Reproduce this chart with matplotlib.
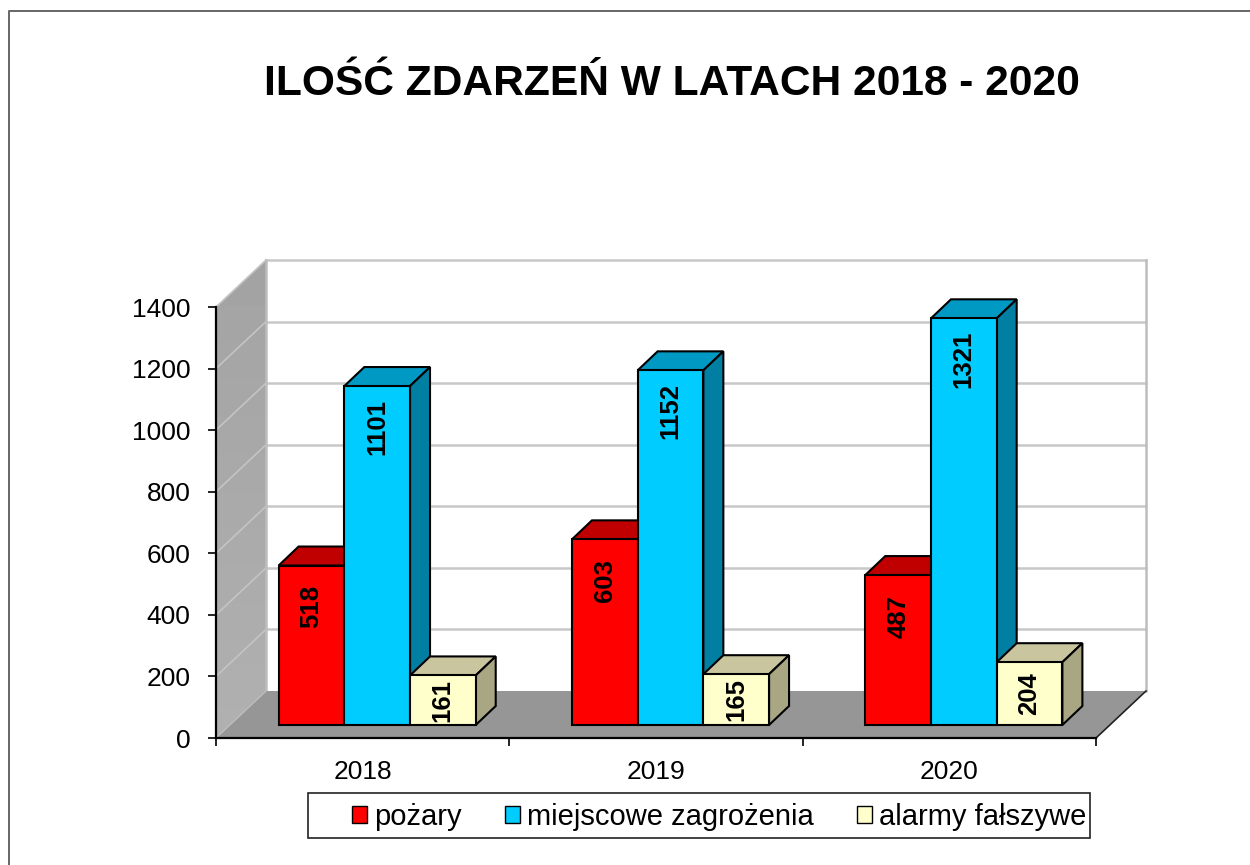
import numpy as np
import matplotlib
matplotlib.use('Agg')
import matplotlib.pyplot as plt
from matplotlib.lines import Line2D
from matplotlib.patches import Patch, Polygon, Rectangle

plt.rcParams['font.family'] = ['Liberation Sans', 'DejaVu Sans']

# chart values
years = ['2018', '2019', '2020']
pozary = [518, 603, 487]
zagrozenia = [1101, 1152, 1321]
alarmy = [161, 165, 204]
series_names = ['pożary', 'miejscowe zagrożenia', 'alarmy fałszywe']
y_ticks = [0, 200, 400, 600, 800, 1000, 1200, 1400]

# front, top and side colour of each series
series_colors = [('#ff0000', '#c00000', '#a00000'),
                 ('#00ccff', '#0099c4', '#007fa3'),
                 ('#ffffcc', '#c9c69f', '#a8a683')]

# figure size in pixels
W, H = 1250, 865

fig = plt.figure(figsize=(W / 100, H / 100), dpi=100)
ax = fig.add_axes([216 / W, 1 - 738 / H, 880 / W, 431 / H])

# one pixel in data units
px = 3.0 / 880
py = 1400.0 / 431

# depth of the chart box and of a single bar, pixels
box_dx, box_dy = 50 * px, 47 * py
bar_dx, bar_dy = 20 * px, 19 * py
# bars stand this far behind the front edge of the floor
lift_dx, lift_dy = 14.5 * px, 13 * py
bar_w = 65.7 * px

# left wall with its soft vertical gradient
wall = Polygon([(-0.5, 0), (-0.5 + box_dx, box_dy), (-0.5 + box_dx, 1400 + box_dy), (-0.5, 1400)],
               facecolor='none', edgecolor='none', transform=ax.transData, clip_on=False)
ax.add_patch(wall)
shade = ax.imshow(np.linspace(0.64, 0.69, 64).reshape(-1, 1), cmap='gray', vmin=0, vmax=1, aspect='auto',
                  extent=(-0.5, -0.5 + box_dx, 0, 1400 + box_dy), origin='upper', zorder=1)
shade.set_clip_path(wall)
shade.set_clip_box(fig.bbox)

# floor
ax.add_patch(Polygon([(-0.5, 0), (-0.5 + box_dx, box_dy), (2.5 + box_dx, box_dy), (2.5, 0)],
                     facecolor='#969696', edgecolor='none', clip_on=False, zorder=2))
ax.plot([2.5, 2.5 + box_dx], [0, box_dy], color='#222222', lw=1.2, clip_on=False, zorder=3)
ax.plot([-0.5, -0.5 + box_dx], [0, box_dy], color='#bdbdbd', lw=1.0, clip_on=False, zorder=3)

# gridlines on both walls
for t in y_ticks[1:]:
    ax.plot([-0.5 + box_dx, 2.5 + box_dx], [t + box_dy, t + box_dy], color='#c8c8c8', lw=1.8,
            clip_on=False, zorder=1.5)
    ax.plot([-0.5, -0.5 + box_dx], [t, t + box_dy], color='#c4c4c4', lw=1.2, clip_on=False, zorder=1.5)
ax.plot([-0.5 + box_dx, -0.5 + box_dx], [box_dy, 1400 + box_dy], color='#bdbdbd', lw=1.8, clip_on=False, zorder=1.5)
ax.plot([2.5 + box_dx, 2.5 + box_dx], [box_dy, 1400 + box_dy], color='#bdbdbd', lw=1.8, clip_on=False, zorder=1.5)

# bars, drawn left to right so the next one covers the side of the previous
for i, values in enumerate([pozary, zagrozenia, alarmy]):
    front, top, side = series_colors[i]
    for j, v in enumerate(values):
        left = j + lift_dx - 1.5 * bar_w + i * bar_w
        right = left + bar_w
        z = 5 + i + j * 3
        ax.bar(left, v, width=bar_w, bottom=lift_dy, align='edge', color=front, edgecolor='black',
               linewidth=1.5, clip_on=False, zorder=z + 0.2)
        y_top = lift_dy + v
        ax.add_patch(Polygon([(left, y_top), (left + bar_dx, y_top + bar_dy),
                              (right + bar_dx, y_top + bar_dy), (right, y_top)],
                             facecolor=top, edgecolor='black', linewidth=1.5, clip_on=False, zorder=z))
        ax.add_patch(Polygon([(right, lift_dy), (right + bar_dx, lift_dy + bar_dy),
                              (right + bar_dx, y_top + bar_dy), (right, y_top)],
                             facecolor=side, edgecolor='black', linewidth=1.5, clip_on=False, zorder=z))
        # value label sits near the top, or in the middle of a short bar
        label_y = y_top - min(v / 2, 41 * py)
        ax.text((left + right) / 2, label_y, str(v), rotation=90, ha='center', va='center',
                fontsize=18.5, fontweight='bold', color='black', zorder=z + 0.5)

ax.set_xlim(-0.5, 2.5)
ax.set_ylim(0, 1400)

# axes
for name in ['top', 'right']:
    ax.spines[name].set_visible(False)
for name in ['left', 'bottom']:
    ax.spines[name].set_linewidth(1.6)
    ax.spines[name].set_zorder(4)
ax.patch.set_visible(False)
ax.set_yticks(y_ticks)
ax.set_xticks([-0.5, 0.5, 1.5, 2.5])
ax.set_xticklabels([])
ax.set_xticks([0, 1, 2], minor=True)
ax.set_xticklabels(years, minor=True)
ax.tick_params(axis='x', which='major', length=6, width=1.2)
ax.tick_params(axis='x', which='minor', length=0, pad=16, labelsize=19)
ax.tick_params(axis='y', length=6, width=1.2, pad=12.5, labelsize=19)

# legend, its box is off-centre around the entries so it is drawn apart
fig.add_artist(Rectangle((308 / W, 1 - 838 / H), 782 / W, 45 / H, transform=fig.transFigure,
                         facecolor='white', edgecolor='#222222', linewidth=1.2))
handles = [Patch(facecolor=c[0], edgecolor='black', linewidth=1) for c in series_colors]
leg = fig.legend(handles, series_names, loc='center left', bbox_to_anchor=(352 / W, 1 - 817 / H), ncol=3,
                 fontsize=21, frameon=False, handlelength=0.52, handleheight=0.52, handletextpad=0.24,
                 columnspacing=1.48, borderpad=0, borderaxespad=0)
leg.set_zorder(5)

# title
fig.text(672 / W, 1 - 84 / H, 'ILOŚĆ ZDARZEŃ W LATACH 2018 - 2020', ha='center', va='center',
         fontsize=30.6, fontweight='bold', color='black')

# outer frame of the slide, only the top and left edges are in view
fig.add_artist(Line2D([9 / W, 9 / W, 1], [0, 1 - 11 / H, 1 - 11 / H], transform=fig.transFigure,
                      color='#666666', linewidth=1.4))

fig.savefig('out.png', dpi=100)
